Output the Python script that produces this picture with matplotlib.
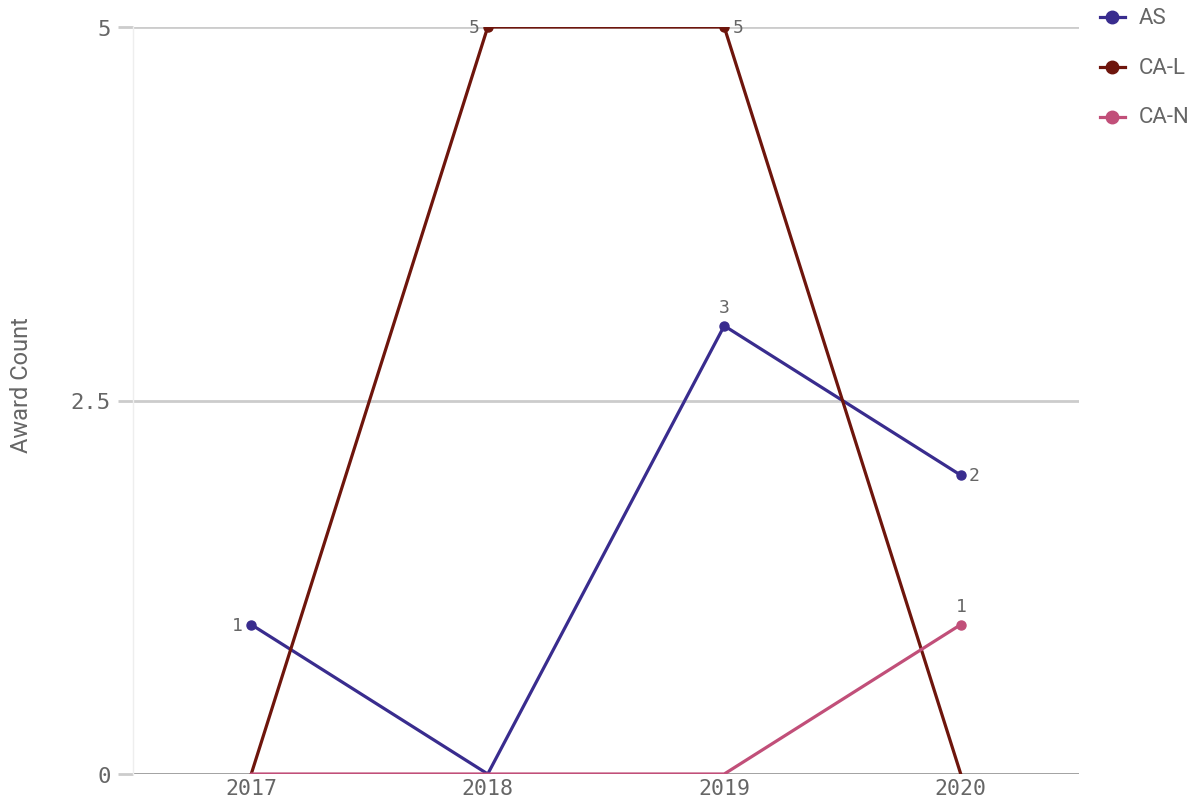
import matplotlib
matplotlib.use('Agg')
import matplotlib.pyplot as plt
import numpy as np

years = ['2017', '2018', '2019', '2020']
series = ['AS', 'CA-L', 'CA-N']
as_counts = [1, 0, 3, 2]
cal_counts = [0, 5, 5, 0]
can_counts = [0, 0, 0, 1]
colors = ['#392c8e', '#6e150c', '#c14f79']
yticks = [0, 2.5, 5]
ytick_labels = ['0', '2.5', '5']

# where the value labels sit relative to each point (per series, per year)
label_pos = [['left', None, 'top', 'right'],
             [None, 'left', 'right', None],
             [None, None, None, 'top']]

fig = plt.figure(figsize=(12.01, 8.04), dpi=100)
ax = fig.add_axes([133 / 1201, 1 - 775 / 804, 946 / 1201, 747 / 804])

x = np.arange(len(years))
gray = '#666666'
mono = 'DejaVu Sans Mono'

for yv in yticks[1:]:
    ax.axhline(yv, color='#cccccc', lw=2, zorder=0)
ax.axhline(0, color='#999999', lw=2, zorder=0)

all_series = [as_counts, cal_counts, can_counts]
order = [2, 0, 1]
for i in order:
    vals = np.array(all_series[i])
    ax.plot(x, vals, color=colors[i], lw=2.3, zorder=3 + i, solid_capstyle='round')
    mask = vals > 0
    ax.plot(x[mask], vals[mask], 'o', color=colors[i], ms=6.5, zorder=4 + i)
    for j, v in enumerate(vals):
        pos = label_pos[i][j]
        if pos is None:
            continue
        if pos == 'left':
            ax.annotate(str(v), (j, v), xytext=(-6, 0), textcoords='offset points',
                        ha='right', va='center', fontsize=13, color=gray, family=mono)
        elif pos == 'right':
            ax.annotate(str(v), (j, v), xytext=(6, 0), textcoords='offset points',
                        ha='left', va='center', fontsize=13, color=gray, family=mono)
        else:
            ax.annotate(str(v), (j, v), xytext=(0, 7), textcoords='offset points',
                        ha='center', va='bottom', fontsize=13, color=gray, family=mono)

ax.set_xlim(-0.5, len(years) - 0.5)
ax.set_ylim(0, 5)
ax.set_xticks(x)
ax.set_xticklabels(years, family=mono, fontsize=15.5, color=gray)
ax.set_yticks(yticks)
ax.set_yticklabels(ytick_labels, family=mono, fontsize=16, color=gray)
ax.tick_params(axis='x', length=0, pad=3)
ax.tick_params(axis='y', length=11, color='#cccccc', width=2, pad=5)
for s in ['top', 'right', 'bottom']:
    ax.spines[s].set_visible(False)
ax.spines['left'].set_color('#eeeeee')
ax.spines['left'].set_linewidth(1)

fig.text(22 / 1201, 1 - 385 / 804, 'Award Count', rotation=90, ha='center', va='center',
         fontsize=17, color=gray, family='Roboto')

# legend
for i, name in enumerate(series):
    yy = 1 - (18 + 50 * i) / 804
    fig.add_artist(plt.Line2D([1100 / 1201, 1125 / 1201], [yy, yy], color=colors[i],
                              lw=2.3, transform=fig.transFigure))
    fig.add_artist(plt.Line2D([1112 / 1201], [yy], color=colors[i], marker='o', ms=9,
                              transform=fig.transFigure))
    fig.text(1139 / 1201, yy, name, ha='left', va='center', fontsize=16, color=gray,
             family='Roboto')

fig.savefig('out.png', dpi=100)
